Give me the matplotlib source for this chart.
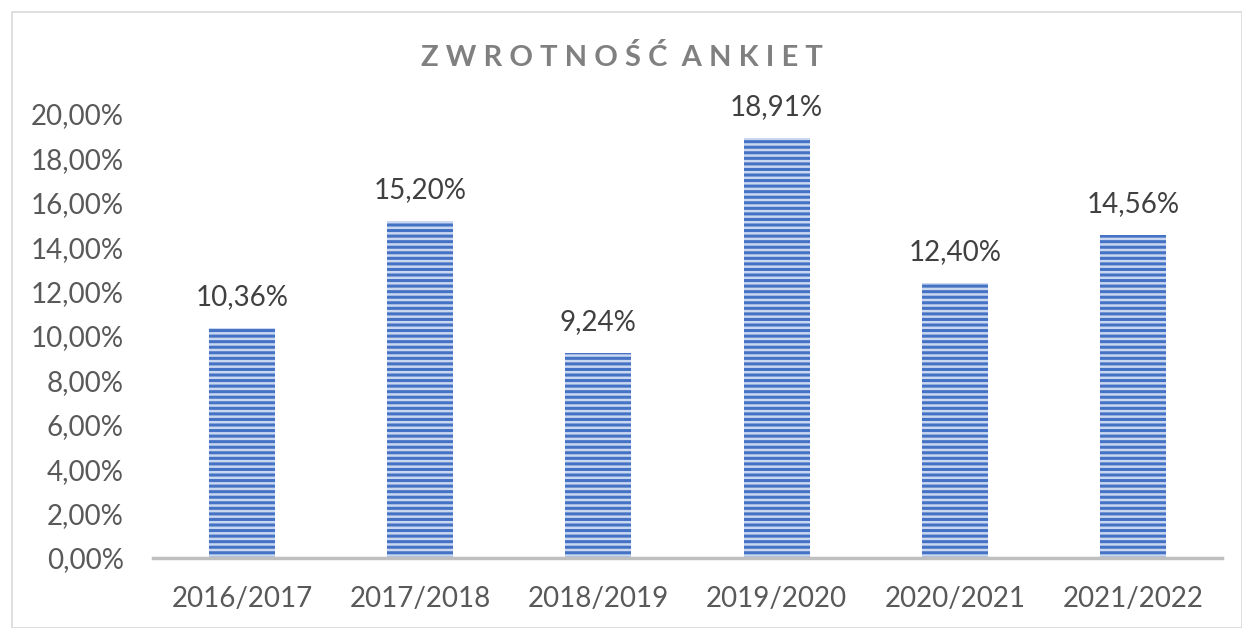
import matplotlib
matplotlib.use("Agg")
import matplotlib.pyplot as plt
from matplotlib.patches import Rectangle
from matplotlib.ticker import FuncFormatter

categories = ["2016/2017", "2017/2018", "2018/2019", "2019/2020", "2020/2021", "2021/2022"]
values = [10.36, 15.20, 9.24, 18.91, 12.40, 14.56]
labels = ["10,36%", "15,20%", "9,24%", "18,91%", "12,40%", "14,56%"]
title = "ZWROTNOŚĆ ANKIET"

plt.rcParams['font.family'] = ['Lato', 'DejaVu Sans']
plt.rcParams['hatch.linewidth'] = 2.2
plt.rcParams['hatch.color'] = '#4472c4'

fig = plt.figure(figsize=(12.42, 6.28), dpi=100)
fig.patches.append(Rectangle((12/1242, 0), 1 - 12/1242, 1 - 12/628, transform=fig.transFigure,
                             fill=False, edgecolor='#d9d9d9', linewidth=1.2))

ax = fig.add_axes([153/1242, 1 - 558/628, (1222 - 153)/1242, (558 - 114)/628])
x = range(len(categories))
bars = ax.bar(x, values, width=0.37, color='#c9d7f0', linewidth=0, hatch='---')
for b in bars:
    b.set_edgecolor('#4472c4')
    b.set_linewidth(0)

for xi, v, lab in zip(x, values, labels):
    ax.text(xi, v + 0.8, lab, ha='center', va='bottom', fontsize=20, color='#404040')

ax.set_xlim(-0.5, len(categories) - 0.5)
ax.set_ylim(0, 20)
ax.set_yticks(range(0, 21, 2))
ax.yaxis.set_major_formatter(FuncFormatter(lambda v, p: f"{v:.2f}".replace('.', ',') + "%"))
ax.set_xticks(list(x))
ax.set_xticklabels(categories)
ax.tick_params(axis='both', length=0, labelsize=20, labelcolor='#595959')
ax.tick_params(axis='x', pad=20)
ax.tick_params(axis='y', pad=21)
for s in ['top', 'right', 'left']:
    ax.spines[s].set_visible(False)
ax.spines['bottom'].set_color('#bfbfbf')
ax.spines['bottom'].set_linewidth(2.5)

spaced = " ".join(title).replace("   ", "  ")
fig.text(622/1242, 1 - 57/628, spaced, ha='center', va='center', fontsize=21,
         fontweight='bold', color='#808080')

fig.savefig("out.png", dpi=100)
